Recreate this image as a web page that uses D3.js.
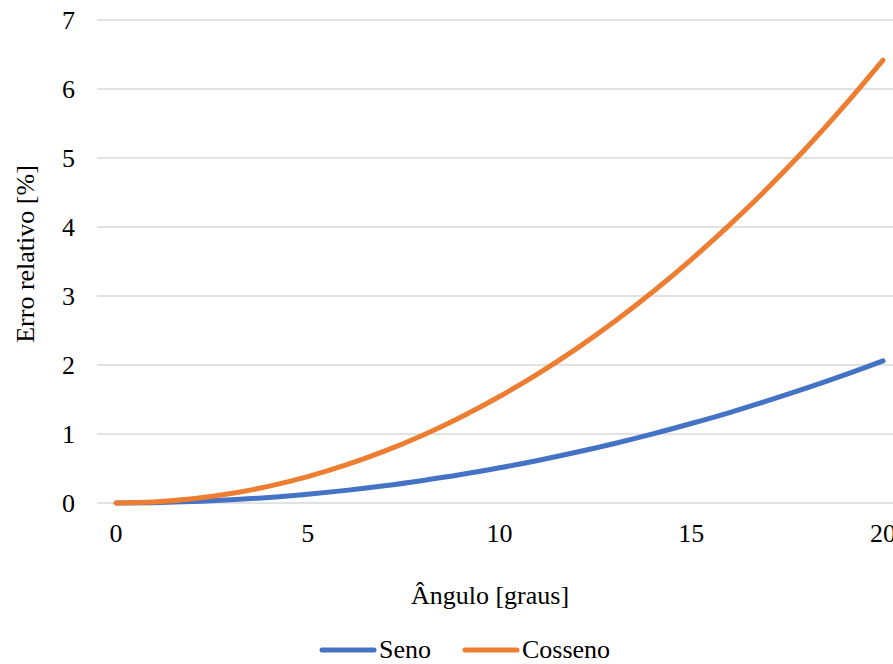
<!DOCTYPE html>
<html>
<head>
<meta charset="utf-8">
<script src="https://cdn.jsdelivr.net/npm/d3@7"></script>
<style>
  body { margin: 0; background: #fff; }
</style>
</head>
<body>
<div id="chart"></div>
<script>
// angles in degrees
var angles = [0, 1, 2, 3, 4, 5, 6, 7, 8, 9, 10, 11, 12, 13, 14, 15, 16, 17, 18, 19, 20];
// relative error [%]
var seno = [0, 0.005, 0.020, 0.046, 0.081, 0.127, 0.183, 0.249, 0.326, 0.412, 0.510,
    0.617, 0.735, 0.863, 1.002, 1.152, 1.311, 1.482, 1.664, 1.856, 2.060];
var cosseno = [0, 0.015, 0.061, 0.137, 0.244, 0.382, 0.551, 0.751, 0.982, 1.247, 1.543,
    1.872, 2.234, 2.630, 3.061, 3.528, 4.030, 4.569, 5.146, 5.762, 6.418];
var xTicks = [0, 5, 10, 15, 20];
var yTicks = [0, 1, 2, 3, 4, 5, 6, 7];
var seriesNames = ['Seno', 'Cosseno'];
var colors = ['#4472C4', '#ED7D31'];

var width = 893, height = 664;
var margin = { left: 116, right: 10, top: 20, bottom: 161 };
var font = "'Liberation Serif', 'Times New Roman', serif";

var svg = d3.select('#chart').append('svg')
    .attr('width', width)
    .attr('height', height);

var xScale = d3.scaleLinear().domain([0, 20]).range([margin.left, 883]);
var yScale = d3.scaleLinear().domain([0, 7]).range([503, margin.top]);

function label(sel) {
    return sel.style('font-family', font).style('font-size', '26px').style('fill', '#000');
}

// gridlines
svg.append('g').selectAll('line')
    .data(yTicks)
    .enter().append('line')
    .attr('x1', 97)
    .attr('x2', width)
    .attr('y1', d => yScale(d))
    .attr('y2', d => yScale(d))
    .attr('stroke', '#d9d9d9')
    .attr('stroke-width', 1.5);

// y tick labels
svg.append('g').selectAll('text')
    .data(yTicks)
    .enter().append('text')
    .attr('x', 75)
    .attr('y', d => yScale(d))
    .attr('dy', '0.33em')
    .attr('text-anchor', 'end')
    .call(label)
    .text(d => d);

// x tick labels
svg.append('g').selectAll('text')
    .data(xTicks)
    .enter().append('text')
    .attr('x', d => xScale(d))
    .attr('y', 542)
    .attr('text-anchor', 'middle')
    .call(label)
    .text(d => d);

// axis titles
svg.append('text')
    .attr('x', 490)
    .attr('y', 604)
    .attr('text-anchor', 'middle')
    .call(label)
    .text('Ângulo [graus]');

svg.append('text')
    .attr('transform', 'translate(34,254) rotate(-90)')
    .attr('text-anchor', 'middle')
    .call(label)
    .text('Erro relativo [%]');

// lines
var line = d3.line()
    .x((d, i) => xScale(angles[i]))
    .y(d => yScale(d))
    .curve(d3.curveMonotoneX);

[seno, cosseno].forEach(function (vals, i) {
    svg.append('path')
        .attr('d', line(vals))
        .attr('fill', 'none')
        .attr('stroke', colors[i])
        .attr('stroke-width', 5)
        .attr('stroke-linecap', 'round')
        .attr('stroke-linejoin', 'round');
});

// legend
var legendX = [322, 465];
seriesNames.forEach(function (name, i) {
    var g = svg.append('g').attr('transform', 'translate(' + legendX[i] + ',650)');
    g.append('line')
        .attr('x1', 0).attr('x2', 52)
        .attr('stroke', colors[i])
        .attr('stroke-width', 5)
        .attr('stroke-linecap', 'round');
    g.append('text')
        .attr('x', 57)
        .attr('y', 8)
        .call(label)
        .text(name);
});
</script>
</body>
</html>
